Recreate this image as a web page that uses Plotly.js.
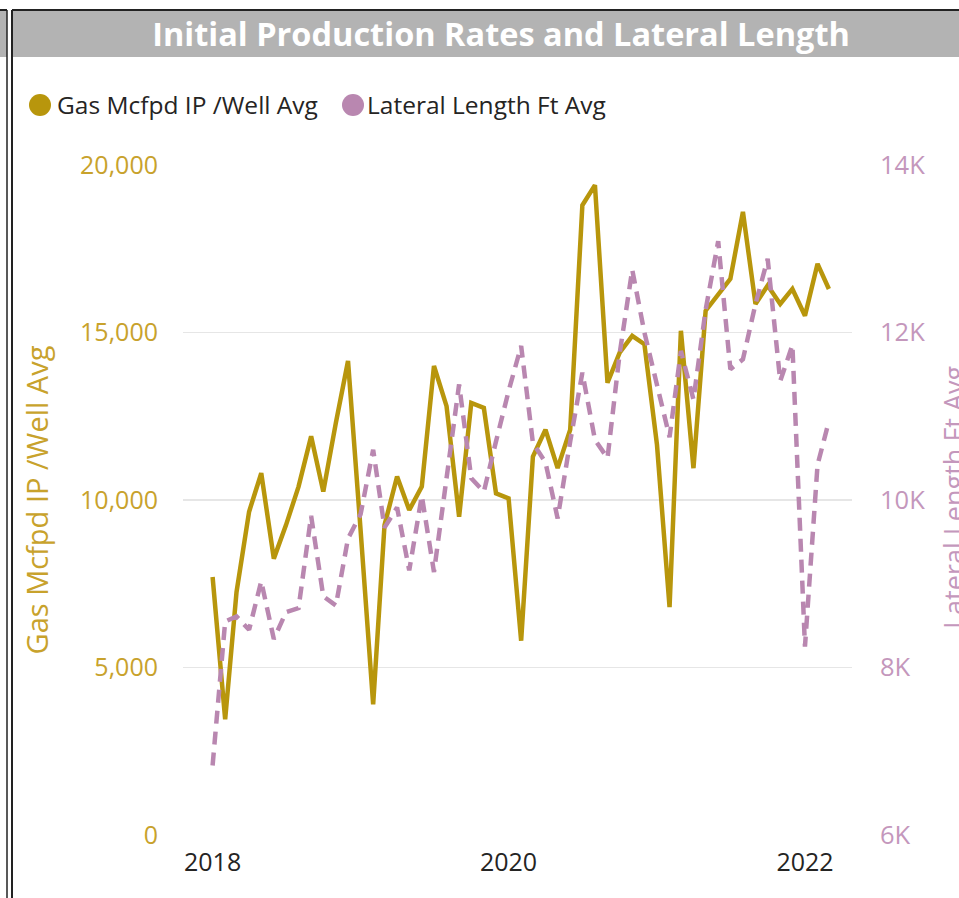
<!DOCTYPE html>
<html>
<head>
<meta charset="utf-8">
<script src="https://cdn.plot.ly/plotly-3.0.1.min.js"></script>
<style>
  html, body { margin: 0; padding: 0; background: #ffffff; }
  #chart { width: 959px; height: 898px; }
</style>
</head>
<body>
<div id="chart"></div>
<script>
// ---- Data (monthly, Jan 2018 – Mar 2022) ----
const months = [
  "2018-01-01","2018-02-01","2018-03-01","2018-04-01","2018-05-01","2018-06-01",
  "2018-07-01","2018-08-01","2018-09-01","2018-10-01","2018-11-01","2018-12-01",
  "2019-01-01","2019-02-01","2019-03-01","2019-04-01","2019-05-01","2019-06-01",
  "2019-07-01","2019-08-01","2019-09-01","2019-10-01","2019-11-01","2019-12-01",
  "2020-01-01","2020-02-01","2020-03-01","2020-04-01","2020-05-01","2020-06-01",
  "2020-07-01","2020-08-01","2020-09-01","2020-10-01","2020-11-01","2020-12-01",
  "2021-01-01","2021-02-01","2021-03-01","2021-04-01","2021-05-01","2021-06-01",
  "2021-07-01","2021-08-01","2021-09-01","2021-10-01","2021-11-01","2021-12-01",
  "2022-01-01","2022-02-01","2022-03-01"
];
const gasIpAvg = [
  7700, 3450, 7250, 9650, 10800, 8250, 9250, 10400, 11900, 10250, 12300, 14150,
  9100, 3900, 9250, 10700, 9700, 10400, 14000, 12800, 9500, 12900, 12750, 10200,
  10050, 5800, 11300, 12100, 10950, 12100, 18800, 19400, 13500, 14400, 14900, 14650,
  11650, 6800, 15050, 10950, 15650, 16150, 16600, 18600, 15850, 16400, 15850, 16300,
  15500, 17050, 16300
];
const lateralLengthAvg = [
  6830, 8550, 8610, 8450, 9030, 8340, 8660, 8710, 9810, 8850, 8740, 9540,
  9830, 10600, 9670, 9910, 9160, 10050, 9140, 10250, 11380, 10260, 10100, 10700,
  11300, 11840, 10680, 10450, 9780, 10700, 11520, 10720, 10500, 11750, 12750, 12000,
  11350, 10750, 11780, 11200, 12270, 13090, 11560, 11680, 12340, 12880, 11420, 11850,
  8250, 10420, 10940
];
const seriesNames = ["Gas Mcfpd IP /Well Avg", "Lateral Length Ft Avg"];
const leftTicks = [0, 5000, 10000, 15000, 20000];
const leftTickText = ["0", "5,000", "10,000", "15,000", "20,000"];
const rightTicks = [6000, 8000, 10000, 12000, 14000];
const rightTickText = ["6K", "8K", "10K", "12K", "14K"];
const chartTitle = "Initial Production Rates and Lateral Length";

// ---- Styling ----
const GOLD = "#B8960C";
const GOLD_TXT = "#C8A22C";
const PURPLE = "#B987B0";
const PURPLE_TXT = "#C497BC";
const FONT = "Open Sans, 'Segoe UI', sans-serif";

const W = 959, H = 898;
const M = { l: 183, r: 107, t: 165, b: 63 };
const PW = W - M.l - M.r, PH = H - M.t - M.b;
const px = v => (v - M.l) / PW;          // pixel x -> paper x
const py = v => (H - M.b - v) / PH;      // pixel y -> paper y

const traces = [
  {
    x: months, y: gasIpAvg, name: seriesNames[0], type: "scatter", mode: "lines",
    line: { color: GOLD, width: 4.5 }, yaxis: "y", showlegend: false, hoverinfo: "skip"
  },
  {
    x: months, y: lateralLengthAvg, name: seriesNames[1], type: "scatter", mode: "lines",
    line: { color: PURPLE, width: 4.5, dash: "13px,8px" }, yaxis: "y2", showlegend: false, hoverinfo: "skip"
  }
];

const shapes = [
  // title bar
  { type: "rect", xref: "paper", yref: "paper", x0: px(13), x1: px(W + 2), y0: py(57), y1: py(11),
    fillcolor: "#B3B3B3", line: { width: 0 }, layer: "below" },
  // left neighbour panel strip
  { type: "rect", xref: "paper", yref: "paper", x0: px(-2), x1: px(7), y0: py(57), y1: py(11),
    fillcolor: "#B3B3B3", line: { width: 0 }, layer: "below" },
  // frame lines
  { type: "line", xref: "paper", yref: "paper", x0: px(12), x1: px(12), y0: py(10), y1: py(H + 2),
    line: { color: "#222222", width: 2 } },
  { type: "line", xref: "paper", yref: "paper", x0: px(7), x1: px(7), y0: py(10), y1: py(H + 2),
    line: { color: "#222222", width: 1.5 } },
  { type: "line", xref: "paper", yref: "paper", x0: px(12), x1: px(W + 2), y0: py(10), y1: py(10),
    line: { color: "#222222", width: 2 } },
  { type: "line", xref: "paper", yref: "paper", x0: px(-2), x1: px(7), y0: py(10), y1: py(10),
    line: { color: "#222222", width: 2 } },
  // legend markers
  { type: "circle", xref: "paper", yref: "paper", xsizemode: "pixel", ysizemode: "pixel",
    xanchor: px(40), yanchor: py(105), x0: -11, x1: 11, y0: -11, y1: 11,
    fillcolor: GOLD, line: { width: 0 } },
  { type: "circle", xref: "paper", yref: "paper", xsizemode: "pixel", ysizemode: "pixel",
    xanchor: px(353), yanchor: py(105), x0: -11, x1: 11, y0: -11, y1: 11,
    fillcolor: PURPLE, line: { width: 0 } }
];

const annotations = [
  { text: seriesNames[0], xref: "paper", yref: "paper", x: px(55), y: py(105),
    xanchor: "left", yanchor: "middle", showarrow: false,
    font: { family: FONT, size: 24.5, color: "#252423" } },
  { text: seriesNames[1], xref: "paper", yref: "paper", x: px(365), y: py(105),
    xanchor: "left", yanchor: "middle", showarrow: false,
    font: { family: FONT, size: 24.5, color: "#252423" } },
  // right axis title (placed partly outside the frame, as in the source)
  { text: seriesNames[1], xref: "paper", yref: "paper", x: px(953), y: py(497),
    xanchor: "center", yanchor: "middle", textangle: -90, showarrow: false,
    font: { family: FONT, size: 27, color: PURPLE_TXT } }
];

const layout = {
  width: W, height: H,
  margin: M,
  paper_bgcolor: "#ffffff",
  plot_bgcolor: "#ffffff",
  showlegend: false,
  title: {
    text: "<b>" + chartTitle + "</b>",
    x: 501 / W, xanchor: "center", xref: "container",
    y: 1 - 35 / H, yanchor: "middle", yref: "container",
    font: { family: FONT, size: 32.5, color: "#ffffff" }
  },
  xaxis: {
    type: "date",
    range: ["2017-10-20", "2022-04-27"],
    tick0: "2018-01-01", dtick: "M24", tickformat: "%Y",
    showgrid: false, zeroline: false, showline: false, ticks: "",
    tickfont: { family: FONT, size: 25, color: "#252423" },
    ticklabelstandoff: 10
  },
  yaxis: {
    range: [0, 20000], tickvals: leftTicks, ticktext: leftTickText,
    showgrid: true, gridcolor: "#E6E6E6", gridwidth: 1.5, zeroline: false, showline: false, ticks: "",
    tickfont: { family: FONT, size: 25, color: GOLD_TXT },
    ticklabelstandoff: 24,
    title: { text: seriesNames[0], font: { family: FONT, size: 29, color: GOLD_TXT }, standoff: 22 },
    automargin: false
  },
  yaxis2: {
    range: [6000, 14000], tickvals: rightTicks, ticktext: rightTickText,
    overlaying: "y", side: "right",
    showgrid: false, zeroline: false, showline: false, ticks: "",
    tickfont: { family: FONT, size: 25.5, color: PURPLE_TXT },
    ticklabelstandoff: 27,
    automargin: false
  },
  shapes: shapes,
  annotations: annotations
};

Plotly.newPlot("chart", traces, layout, { staticPlot: true, displayModeBar: false });
</script>
</body>
</html>
